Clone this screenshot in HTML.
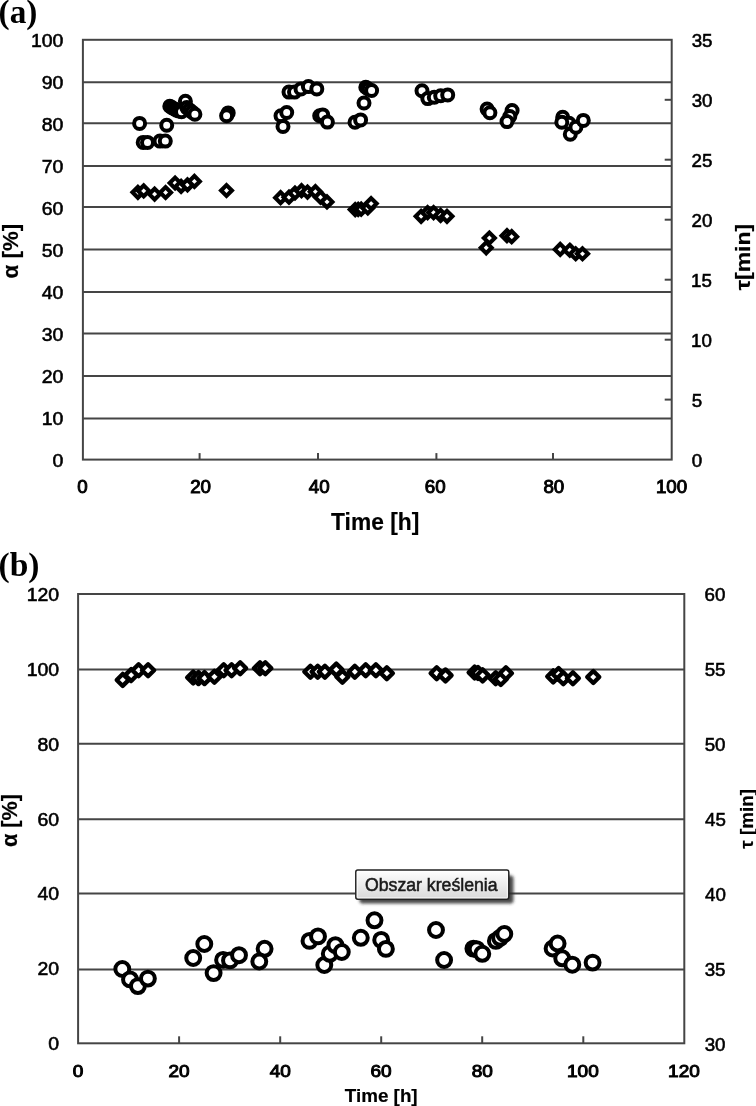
<!DOCTYPE html>
<html><head><meta charset="utf-8"><style>
html,body{margin:0;padding:0;background:#fff;}
svg{display:block;filter:grayscale(1);}
</style></head><body>
<svg width="756" height="1106" viewBox="0 0 756 1106">
<rect width="756" height="1106" fill="#fff"/>
<line x1="82.9" y1="82.3" x2="671.7" y2="82.3" stroke="#454545" stroke-width="2"/>
<line x1="82.9" y1="123.3" x2="671.7" y2="123.3" stroke="#454545" stroke-width="2"/>
<line x1="82.9" y1="166.0" x2="671.7" y2="166.0" stroke="#454545" stroke-width="2"/>
<line x1="82.9" y1="207.0" x2="671.7" y2="207.0" stroke="#454545" stroke-width="2"/>
<line x1="82.9" y1="249.6" x2="671.7" y2="249.6" stroke="#454545" stroke-width="2"/>
<line x1="82.9" y1="292.1" x2="671.7" y2="292.1" stroke="#454545" stroke-width="2"/>
<line x1="82.9" y1="333.4" x2="671.7" y2="333.4" stroke="#454545" stroke-width="2"/>
<line x1="82.9" y1="375.9" x2="671.7" y2="375.9" stroke="#454545" stroke-width="2"/>
<line x1="82.9" y1="418.5" x2="671.7" y2="418.5" stroke="#454545" stroke-width="2"/>
<line x1="664.7" y1="99.8" x2="671.7" y2="99.8" stroke="#454545" stroke-width="2"/>
<line x1="664.7" y1="159.7" x2="671.7" y2="159.7" stroke="#454545" stroke-width="2"/>
<line x1="664.7" y1="219.7" x2="671.7" y2="219.7" stroke="#454545" stroke-width="2"/>
<line x1="664.7" y1="279.7" x2="671.7" y2="279.7" stroke="#454545" stroke-width="2"/>
<line x1="664.7" y1="339.7" x2="671.7" y2="339.7" stroke="#454545" stroke-width="2"/>
<line x1="664.7" y1="399.6" x2="671.7" y2="399.6" stroke="#454545" stroke-width="2"/>
<line x1="199.6" y1="453.1" x2="199.6" y2="459.6" stroke="#454545" stroke-width="2"/>
<line x1="318.0" y1="453.1" x2="318.0" y2="459.6" stroke="#454545" stroke-width="2"/>
<line x1="436.4" y1="453.1" x2="436.4" y2="459.6" stroke="#454545" stroke-width="2"/>
<line x1="553.0" y1="453.1" x2="553.0" y2="459.6" stroke="#454545" stroke-width="2"/>
<rect x="82.9" y="39.8" width="588.8" height="419.8" fill="none" stroke="#454545" stroke-width="2"/>
<text transform="translate(30.89,46.60) scale(1.110,1)" font-family="Liberation Sans" font-weight="normal" font-size="17.53" fill="#000" stroke="#000" stroke-width="0.55">100</text>
<text transform="translate(41.74,88.60) scale(1.110,1)" font-family="Liberation Sans" font-weight="normal" font-size="17.53" fill="#000" stroke="#000" stroke-width="0.55">90</text>
<text transform="translate(41.74,130.60) scale(1.110,1)" font-family="Liberation Sans" font-weight="normal" font-size="17.53" fill="#000" stroke="#000" stroke-width="0.55">80</text>
<text transform="translate(41.74,172.60) scale(1.110,1)" font-family="Liberation Sans" font-weight="normal" font-size="17.53" fill="#000" stroke="#000" stroke-width="0.55">70</text>
<text transform="translate(41.74,214.60) scale(1.110,1)" font-family="Liberation Sans" font-weight="normal" font-size="17.53" fill="#000" stroke="#000" stroke-width="0.55">60</text>
<text transform="translate(41.74,256.60) scale(1.110,1)" font-family="Liberation Sans" font-weight="normal" font-size="17.53" fill="#000" stroke="#000" stroke-width="0.55">50</text>
<text transform="translate(41.74,298.60) scale(1.110,1)" font-family="Liberation Sans" font-weight="normal" font-size="17.53" fill="#000" stroke="#000" stroke-width="0.55">40</text>
<text transform="translate(41.74,340.60) scale(1.110,1)" font-family="Liberation Sans" font-weight="normal" font-size="17.53" fill="#000" stroke="#000" stroke-width="0.55">30</text>
<text transform="translate(41.74,382.60) scale(1.110,1)" font-family="Liberation Sans" font-weight="normal" font-size="17.53" fill="#000" stroke="#000" stroke-width="0.55">20</text>
<text transform="translate(41.74,424.60) scale(1.110,1)" font-family="Liberation Sans" font-weight="normal" font-size="17.53" fill="#000" stroke="#000" stroke-width="0.55">10</text>
<text transform="translate(52.53,466.60) scale(1.110,1)" font-family="Liberation Sans" font-weight="normal" font-size="17.53" fill="#000" stroke="#000" stroke-width="0.55">0</text>
<text transform="translate(691.70,46.90) scale(1.070,1)" font-family="Liberation Sans" font-weight="normal" font-size="17.53" fill="#000" stroke="#000" stroke-width="0.55">35</text>
<text transform="translate(691.70,106.90) scale(1.070,1)" font-family="Liberation Sans" font-weight="normal" font-size="17.53" fill="#000" stroke="#000" stroke-width="0.55">30</text>
<text transform="translate(691.46,166.90) scale(1.070,1)" font-family="Liberation Sans" font-weight="normal" font-size="17.53" fill="#000" stroke="#000" stroke-width="0.55">25</text>
<text transform="translate(691.46,226.90) scale(1.070,1)" font-family="Liberation Sans" font-weight="normal" font-size="17.53" fill="#000" stroke="#000" stroke-width="0.55">20</text>
<text transform="translate(690.99,286.90) scale(1.070,1)" font-family="Liberation Sans" font-weight="normal" font-size="17.53" fill="#000" stroke="#000" stroke-width="0.55">15</text>
<text transform="translate(690.99,346.90) scale(1.070,1)" font-family="Liberation Sans" font-weight="normal" font-size="17.53" fill="#000" stroke="#000" stroke-width="0.55">10</text>
<text transform="translate(691.65,406.90) scale(1.070,1)" font-family="Liberation Sans" font-weight="normal" font-size="17.53" fill="#000" stroke="#000" stroke-width="0.55">5</text>
<text transform="translate(691.65,466.90) scale(1.070,1)" font-family="Liberation Sans" font-weight="normal" font-size="17.53" fill="#000" stroke="#000" stroke-width="0.55">0</text>
<text transform="translate(77.37,493.20) scale(1.070,1)" font-family="Liberation Sans" font-weight="normal" font-size="17.53" fill="#000" stroke="#000" stroke-width="0.95">0</text>
<text transform="translate(190.17,493.20) scale(1.070,1)" font-family="Liberation Sans" font-weight="normal" font-size="17.53" fill="#000" stroke="#000" stroke-width="0.95">20</text>
<text transform="translate(308.73,493.20) scale(1.070,1)" font-family="Liberation Sans" font-weight="normal" font-size="17.53" fill="#000" stroke="#000" stroke-width="0.95">40</text>
<text transform="translate(424.87,493.20) scale(1.070,1)" font-family="Liberation Sans" font-weight="normal" font-size="17.53" fill="#000" stroke="#000" stroke-width="0.95">60</text>
<text transform="translate(543.45,493.20) scale(1.070,1)" font-family="Liberation Sans" font-weight="normal" font-size="17.53" fill="#000" stroke="#000" stroke-width="0.95">80</text>
<text transform="translate(655.91,493.20) scale(1.070,1)" font-family="Liberation Sans" font-weight="normal" font-size="17.53" fill="#000" stroke="#000" stroke-width="0.95">100</text>
<text transform="translate(331.07,529.70) scale(0.966,1)" font-family="Liberation Sans" font-weight="bold" font-size="23.60" fill="#000" stroke="#000" stroke-width="0.2">Time [h]</text>
<text transform="translate(17.70,278.39) rotate(-90) scale(1.052,1)" font-family="Liberation Sans" font-weight="bold" font-size="21.21" fill="#000" stroke="#000" stroke-width="0.2">α [%]</text>
<text transform="translate(749.80,290.27) rotate(-90) scale(1.125,1)" font-family="Liberation Sans" font-weight="bold" font-size="20.47" fill="#000" stroke="#000" stroke-width="0.2">τ[min]</text>
<text transform="translate(-1.42,22.90) scale(1.010,1)" font-family="Liberation Serif" font-weight="bold" font-size="33.00" fill="#000">(a)</text>
<path d="M137.9 186.9L143.3 192.3L137.9 197.8L132.5 192.3Z" fill="#fff" stroke="#000" stroke-width="4.15" stroke-linejoin="miter"/>
<path d="M143.7 185.5L149.1 190.9L143.7 196.3L138.2 190.9Z" fill="#fff" stroke="#000" stroke-width="4.15" stroke-linejoin="miter"/>
<path d="M154.6 188.7L160.0 194.1L154.6 199.5L149.2 194.1Z" fill="#fff" stroke="#000" stroke-width="4.15" stroke-linejoin="miter"/>
<path d="M165.6 187.1L171.0 192.5L165.6 197.9L160.2 192.5Z" fill="#fff" stroke="#000" stroke-width="4.15" stroke-linejoin="miter"/>
<path d="M175.1 177.6L180.5 183.0L175.1 188.4L169.7 183.0Z" fill="#fff" stroke="#000" stroke-width="4.15" stroke-linejoin="miter"/>
<path d="M181.1 181.0L186.5 186.4L181.1 191.8L175.7 186.4Z" fill="#fff" stroke="#000" stroke-width="4.15" stroke-linejoin="miter"/>
<path d="M187.5 179.4L192.9 184.8L187.5 190.2L182.1 184.8Z" fill="#fff" stroke="#000" stroke-width="4.15" stroke-linejoin="miter"/>
<path d="M194.4 176.0L199.8 181.4L194.4 186.8L189.0 181.4Z" fill="#fff" stroke="#000" stroke-width="4.15" stroke-linejoin="miter"/>
<path d="M226.5 185.1L231.9 190.5L226.5 195.9L221.1 190.5Z" fill="#fff" stroke="#000" stroke-width="4.15" stroke-linejoin="miter"/>
<path d="M280.6 192.2L286.1 197.7L280.6 203.1L275.2 197.7Z" fill="#fff" stroke="#000" stroke-width="4.15" stroke-linejoin="miter"/>
<path d="M289.0 191.8L294.4 197.2L289.0 202.6L283.6 197.2Z" fill="#fff" stroke="#000" stroke-width="4.15" stroke-linejoin="miter"/>
<path d="M295.0 187.6L300.4 193.0L295.0 198.4L289.6 193.0Z" fill="#fff" stroke="#000" stroke-width="4.15" stroke-linejoin="miter"/>
<path d="M301.5 185.2L306.9 190.7L301.5 196.1L296.1 190.7Z" fill="#fff" stroke="#000" stroke-width="4.15" stroke-linejoin="miter"/>
<path d="M307.5 186.7L312.9 192.1L307.5 197.5L302.1 192.1Z" fill="#fff" stroke="#000" stroke-width="4.15" stroke-linejoin="miter"/>
<path d="M315.4 186.2L320.8 191.7L315.4 197.1L309.9 191.7Z" fill="#fff" stroke="#000" stroke-width="4.15" stroke-linejoin="miter"/>
<path d="M320.5 191.8L325.9 197.2L320.5 202.6L315.1 197.2Z" fill="#fff" stroke="#000" stroke-width="4.15" stroke-linejoin="miter"/>
<path d="M327.0 196.5L332.4 201.9L327.0 207.3L321.6 201.9Z" fill="#fff" stroke="#000" stroke-width="4.15" stroke-linejoin="miter"/>
<path d="M355.2 204.2L360.6 209.6L355.2 215.0L349.8 209.6Z" fill="#fff" stroke="#000" stroke-width="4.15" stroke-linejoin="miter"/>
<path d="M358.2 204.0L363.6 209.4L358.2 214.8L352.8 209.4Z" fill="#fff" stroke="#000" stroke-width="4.15" stroke-linejoin="miter"/>
<path d="M361.2 203.8L366.6 209.2L361.2 214.6L355.8 209.2Z" fill="#fff" stroke="#000" stroke-width="4.15" stroke-linejoin="miter"/>
<path d="M367.8 202.6L373.2 208.0L367.8 213.4L362.4 208.0Z" fill="#fff" stroke="#000" stroke-width="4.15" stroke-linejoin="miter"/>
<path d="M371.1 198.2L376.6 203.6L371.1 209.0L365.7 203.6Z" fill="#fff" stroke="#000" stroke-width="4.15" stroke-linejoin="miter"/>
<path d="M421.1 210.9L426.6 216.3L421.1 221.8L415.7 216.3Z" fill="#fff" stroke="#000" stroke-width="4.15" stroke-linejoin="miter"/>
<path d="M427.6 207.2L433.1 212.6L427.6 218.0L422.2 212.6Z" fill="#fff" stroke="#000" stroke-width="4.15" stroke-linejoin="miter"/>
<path d="M433.6 207.2L439.1 212.6L433.6 218.0L428.2 212.6Z" fill="#fff" stroke="#000" stroke-width="4.15" stroke-linejoin="miter"/>
<path d="M440.6 210.0L446.1 215.4L440.6 220.8L435.2 215.4Z" fill="#fff" stroke="#000" stroke-width="4.15" stroke-linejoin="miter"/>
<path d="M447.0 210.9L452.4 216.3L447.0 221.8L441.6 216.3Z" fill="#fff" stroke="#000" stroke-width="4.15" stroke-linejoin="miter"/>
<path d="M486.2 242.4L491.6 247.8L486.2 253.2L480.8 247.8Z" fill="#fff" stroke="#000" stroke-width="4.15" stroke-linejoin="miter"/>
<path d="M489.4 232.6L494.8 238.0L489.4 243.4L483.9 238.0Z" fill="#fff" stroke="#000" stroke-width="4.15" stroke-linejoin="miter"/>
<path d="M507.0 230.2L512.5 235.7L507.0 241.1L501.6 235.7Z" fill="#fff" stroke="#000" stroke-width="4.15" stroke-linejoin="miter"/>
<path d="M511.7 231.2L517.1 236.7L511.7 242.1L506.2 236.7Z" fill="#fff" stroke="#000" stroke-width="4.15" stroke-linejoin="miter"/>
<path d="M560.2 244.0L565.7 249.4L560.2 254.8L554.8 249.4Z" fill="#fff" stroke="#000" stroke-width="4.15" stroke-linejoin="miter"/>
<path d="M569.8 244.8L575.2 250.2L569.8 255.6L564.3 250.2Z" fill="#fff" stroke="#000" stroke-width="4.15" stroke-linejoin="miter"/>
<path d="M575.7 248.4L581.2 253.8L575.7 259.2L570.2 253.8Z" fill="#fff" stroke="#000" stroke-width="4.15" stroke-linejoin="miter"/>
<path d="M582.5 248.4L588.0 253.8L582.5 259.2L577.0 253.8Z" fill="#fff" stroke="#000" stroke-width="4.15" stroke-linejoin="miter"/>
<circle cx="139.6" cy="123.4" r="5.5" fill="#fff" stroke="#000" stroke-width="4.0"/>
<circle cx="143.2" cy="142.4" r="5.5" fill="#fff" stroke="#000" stroke-width="4.0"/>
<circle cx="147.5" cy="142.4" r="5.5" fill="#fff" stroke="#000" stroke-width="4.0"/>
<circle cx="160.0" cy="141.1" r="5.5" fill="#fff" stroke="#000" stroke-width="4.0"/>
<circle cx="165.3" cy="141.1" r="5.5" fill="#fff" stroke="#000" stroke-width="4.0"/>
<circle cx="166.7" cy="125.2" r="5.5" fill="#fff" stroke="#000" stroke-width="4.0"/>
<circle cx="169.8" cy="106.2" r="5.5" fill="#fff" stroke="#000" stroke-width="4.0"/>
<circle cx="172.0" cy="107.6" r="5.5" fill="#fff" stroke="#000" stroke-width="4.0"/>
<circle cx="174.3" cy="108.9" r="5.5" fill="#fff" stroke="#000" stroke-width="4.0"/>
<circle cx="176.6" cy="110.1" r="5.5" fill="#fff" stroke="#000" stroke-width="4.0"/>
<circle cx="178.6" cy="111.0" r="5.5" fill="#fff" stroke="#000" stroke-width="4.0"/>
<circle cx="181.5" cy="111.8" r="5.5" fill="#fff" stroke="#000" stroke-width="4.0"/>
<circle cx="185.4" cy="101.3" r="5.5" fill="#fff" stroke="#000" stroke-width="4.0"/>
<circle cx="186.8" cy="107.6" r="5.5" fill="#fff" stroke="#000" stroke-width="4.0"/>
<circle cx="189.4" cy="109.9" r="5.5" fill="#fff" stroke="#000" stroke-width="4.0"/>
<circle cx="192.1" cy="112.1" r="5.5" fill="#fff" stroke="#000" stroke-width="4.0"/>
<circle cx="194.9" cy="114.2" r="5.5" fill="#fff" stroke="#000" stroke-width="4.0"/>
<circle cx="228.2" cy="112.9" r="5.5" fill="#fff" stroke="#000" stroke-width="4.0"/>
<circle cx="226.6" cy="115.7" r="5.5" fill="#fff" stroke="#000" stroke-width="4.0"/>
<circle cx="289.0" cy="92.1" r="5.5" fill="#fff" stroke="#000" stroke-width="4.0"/>
<circle cx="294.5" cy="92.1" r="5.5" fill="#fff" stroke="#000" stroke-width="4.0"/>
<circle cx="301.0" cy="88.9" r="5.5" fill="#fff" stroke="#000" stroke-width="4.0"/>
<circle cx="308.4" cy="86.6" r="5.5" fill="#fff" stroke="#000" stroke-width="4.0"/>
<circle cx="316.8" cy="88.9" r="5.5" fill="#fff" stroke="#000" stroke-width="4.0"/>
<circle cx="281.0" cy="115.7" r="5.5" fill="#fff" stroke="#000" stroke-width="4.0"/>
<circle cx="286.7" cy="112.5" r="5.5" fill="#fff" stroke="#000" stroke-width="4.0"/>
<circle cx="283.0" cy="126.4" r="5.5" fill="#fff" stroke="#000" stroke-width="4.0"/>
<circle cx="319.7" cy="115.7" r="5.5" fill="#fff" stroke="#000" stroke-width="4.0"/>
<circle cx="322.7" cy="114.9" r="5.5" fill="#fff" stroke="#000" stroke-width="4.0"/>
<circle cx="327.4" cy="122.1" r="5.5" fill="#fff" stroke="#000" stroke-width="4.0"/>
<circle cx="365.8" cy="87.3" r="5.5" fill="#fff" stroke="#000" stroke-width="4.0"/>
<circle cx="368.3" cy="89.0" r="5.5" fill="#fff" stroke="#000" stroke-width="4.0"/>
<circle cx="371.6" cy="90.5" r="5.5" fill="#fff" stroke="#000" stroke-width="4.0"/>
<circle cx="364.0" cy="103.0" r="5.5" fill="#fff" stroke="#000" stroke-width="4.0"/>
<circle cx="355.0" cy="122.2" r="5.5" fill="#fff" stroke="#000" stroke-width="4.0"/>
<circle cx="360.6" cy="119.9" r="5.5" fill="#fff" stroke="#000" stroke-width="4.0"/>
<circle cx="422.0" cy="90.7" r="5.5" fill="#fff" stroke="#000" stroke-width="4.0"/>
<circle cx="427.8" cy="98.6" r="5.5" fill="#fff" stroke="#000" stroke-width="4.0"/>
<circle cx="434.3" cy="97.2" r="5.5" fill="#fff" stroke="#000" stroke-width="4.0"/>
<circle cx="440.7" cy="95.8" r="5.5" fill="#fff" stroke="#000" stroke-width="4.0"/>
<circle cx="447.7" cy="94.9" r="5.5" fill="#fff" stroke="#000" stroke-width="4.0"/>
<circle cx="487.1" cy="109.1" r="5.5" fill="#fff" stroke="#000" stroke-width="4.0"/>
<circle cx="489.9" cy="112.8" r="5.5" fill="#fff" stroke="#000" stroke-width="4.0"/>
<circle cx="512.1" cy="110.5" r="5.5" fill="#fff" stroke="#000" stroke-width="4.0"/>
<circle cx="509.8" cy="116.5" r="5.5" fill="#fff" stroke="#000" stroke-width="4.0"/>
<circle cx="507.0" cy="121.6" r="5.5" fill="#fff" stroke="#000" stroke-width="4.0"/>
<circle cx="562.7" cy="117.3" r="5.5" fill="#fff" stroke="#000" stroke-width="4.0"/>
<circle cx="569.0" cy="123.2" r="5.5" fill="#fff" stroke="#000" stroke-width="4.0"/>
<circle cx="561.8" cy="122.2" r="5.5" fill="#fff" stroke="#000" stroke-width="4.0"/>
<circle cx="570.3" cy="134.2" r="5.5" fill="#fff" stroke="#000" stroke-width="4.0"/>
<circle cx="575.9" cy="127.3" r="5.5" fill="#fff" stroke="#000" stroke-width="4.0"/>
<circle cx="583.3" cy="120.4" r="5.5" fill="#fff" stroke="#000" stroke-width="4.0"/>
<line x1="78.1" y1="669.5" x2="684.3" y2="669.5" stroke="#454545" stroke-width="2"/>
<line x1="78.1" y1="743.7" x2="684.3" y2="743.7" stroke="#454545" stroke-width="2"/>
<line x1="78.1" y1="819.3" x2="684.3" y2="819.3" stroke="#454545" stroke-width="2"/>
<line x1="78.1" y1="893.6" x2="684.3" y2="893.6" stroke="#454545" stroke-width="2"/>
<line x1="78.1" y1="969.5" x2="684.3" y2="969.5" stroke="#454545" stroke-width="2"/>
<line x1="179.1" y1="1036.3" x2="179.1" y2="1043.3" stroke="#454545" stroke-width="2"/>
<line x1="280.2" y1="1036.3" x2="280.2" y2="1043.3" stroke="#454545" stroke-width="2"/>
<line x1="381.2" y1="1036.3" x2="381.2" y2="1043.3" stroke="#454545" stroke-width="2"/>
<line x1="482.2" y1="1036.3" x2="482.2" y2="1043.3" stroke="#454545" stroke-width="2"/>
<line x1="583.3" y1="1036.3" x2="583.3" y2="1043.3" stroke="#454545" stroke-width="2"/>
<rect x="78.1" y="594.0" width="606.2" height="449.3" fill="none" stroke="#454545" stroke-width="2"/>
<text transform="translate(26.69,600.80) scale(1.110,1)" font-family="Liberation Sans" font-weight="normal" font-size="17.53" fill="#000" stroke="#000" stroke-width="0.55">120</text>
<text transform="translate(26.69,675.70) scale(1.110,1)" font-family="Liberation Sans" font-weight="normal" font-size="17.53" fill="#000" stroke="#000" stroke-width="0.55">100</text>
<text transform="translate(37.54,750.60) scale(1.110,1)" font-family="Liberation Sans" font-weight="normal" font-size="17.53" fill="#000" stroke="#000" stroke-width="0.55">80</text>
<text transform="translate(37.54,825.50) scale(1.110,1)" font-family="Liberation Sans" font-weight="normal" font-size="17.53" fill="#000" stroke="#000" stroke-width="0.55">60</text>
<text transform="translate(37.54,900.40) scale(1.110,1)" font-family="Liberation Sans" font-weight="normal" font-size="17.53" fill="#000" stroke="#000" stroke-width="0.55">40</text>
<text transform="translate(37.54,975.30) scale(1.110,1)" font-family="Liberation Sans" font-weight="normal" font-size="17.53" fill="#000" stroke="#000" stroke-width="0.55">20</text>
<text transform="translate(48.33,1050.20) scale(1.110,1)" font-family="Liberation Sans" font-weight="normal" font-size="17.53" fill="#000" stroke="#000" stroke-width="0.55">0</text>
<text transform="translate(704.46,601.00) scale(1.070,1)" font-family="Liberation Sans" font-weight="normal" font-size="17.53" fill="#000" stroke="#000" stroke-width="0.55">60</text>
<text transform="translate(704.65,675.95) scale(1.070,1)" font-family="Liberation Sans" font-weight="normal" font-size="17.53" fill="#000" stroke="#000" stroke-width="0.55">55</text>
<text transform="translate(704.65,750.90) scale(1.070,1)" font-family="Liberation Sans" font-weight="normal" font-size="17.53" fill="#000" stroke="#000" stroke-width="0.55">50</text>
<text transform="translate(704.98,825.85) scale(1.070,1)" font-family="Liberation Sans" font-weight="normal" font-size="17.53" fill="#000" stroke="#000" stroke-width="0.55">45</text>
<text transform="translate(704.98,900.80) scale(1.070,1)" font-family="Liberation Sans" font-weight="normal" font-size="17.53" fill="#000" stroke="#000" stroke-width="0.55">40</text>
<text transform="translate(704.70,975.75) scale(1.070,1)" font-family="Liberation Sans" font-weight="normal" font-size="17.53" fill="#000" stroke="#000" stroke-width="0.55">35</text>
<text transform="translate(704.70,1050.70) scale(1.070,1)" font-family="Liberation Sans" font-weight="normal" font-size="17.53" fill="#000" stroke="#000" stroke-width="0.55">30</text>
<text transform="translate(72.80,1077.40) scale(1.170,1)" font-family="Liberation Sans" font-weight="normal" font-size="16.25" fill="#000" stroke="#000" stroke-width="0.95">0</text>
<text transform="translate(168.46,1077.40) scale(1.170,1)" font-family="Liberation Sans" font-weight="normal" font-size="16.25" fill="#000" stroke="#000" stroke-width="0.95">20</text>
<text transform="translate(269.75,1077.40) scale(1.170,1)" font-family="Liberation Sans" font-weight="normal" font-size="16.25" fill="#000" stroke="#000" stroke-width="0.95">40</text>
<text transform="translate(370.53,1077.40) scale(1.170,1)" font-family="Liberation Sans" font-weight="normal" font-size="16.25" fill="#000" stroke="#000" stroke-width="0.95">60</text>
<text transform="translate(471.63,1077.40) scale(1.170,1)" font-family="Liberation Sans" font-weight="normal" font-size="16.25" fill="#000" stroke="#000" stroke-width="0.95">80</text>
<text transform="translate(567.05,1077.40) scale(1.170,1)" font-family="Liberation Sans" font-weight="normal" font-size="16.25" fill="#000" stroke="#000" stroke-width="0.95">100</text>
<text transform="translate(668.09,1077.40) scale(1.170,1)" font-family="Liberation Sans" font-weight="normal" font-size="16.25" fill="#000" stroke="#000" stroke-width="0.95">120</text>
<text transform="translate(344.81,1102.00) scale(1.002,1)" font-family="Liberation Sans" font-weight="bold" font-size="18.80" fill="#000" stroke="#000" stroke-width="0.2">Time [h]</text>
<text transform="translate(16.70,846.97) rotate(-90) scale(1.020,1)" font-family="Liberation Sans" font-weight="bold" font-size="21.21" fill="#000" stroke="#000" stroke-width="0.2">α [%]</text>
<text transform="translate(752.80,848.74) rotate(-90) scale(1.035,1)" font-family="Liberation Sans" font-weight="bold" font-size="18.23" fill="#000" stroke="#000" stroke-width="0.2">τ [min]</text>
<text transform="translate(-1.42,576.20) scale(1.015,1)" font-family="Liberation Serif" font-weight="bold" font-size="33.00" fill="#000">(b)</text>
<path d="M122.7 673.9L128.8 679.9L122.7 685.9L116.7 679.9Z" fill="#fff" stroke="#000" stroke-width="4.3" stroke-linejoin="round"/>
<path d="M131.2 669.1L137.2 675.1L131.2 681.1L125.1 675.1Z" fill="#fff" stroke="#000" stroke-width="4.3" stroke-linejoin="round"/>
<path d="M138.6 664.2L144.7 670.3L138.6 676.3L132.5 670.3Z" fill="#fff" stroke="#000" stroke-width="4.3" stroke-linejoin="round"/>
<path d="M148.1 664.2L154.2 670.3L148.1 676.3L142.0 670.3Z" fill="#fff" stroke="#000" stroke-width="4.3" stroke-linejoin="round"/>
<path d="M193.2 671.5L199.2 677.5L193.2 683.5L187.1 677.5Z" fill="#fff" stroke="#000" stroke-width="4.3" stroke-linejoin="round"/>
<path d="M198.5 672.1L204.6 678.1L198.5 684.1L192.4 678.1Z" fill="#fff" stroke="#000" stroke-width="4.3" stroke-linejoin="round"/>
<path d="M204.5 672.1L210.6 678.1L204.5 684.1L198.4 678.1Z" fill="#fff" stroke="#000" stroke-width="4.3" stroke-linejoin="round"/>
<path d="M214.4 670.8L220.5 676.8L214.4 682.8L208.3 676.8Z" fill="#fff" stroke="#000" stroke-width="4.3" stroke-linejoin="round"/>
<path d="M223.7 664.2L229.8 670.2L223.7 676.2L217.6 670.2Z" fill="#fff" stroke="#000" stroke-width="4.3" stroke-linejoin="round"/>
<path d="M231.6 664.2L237.7 670.2L231.6 676.2L225.5 670.2Z" fill="#fff" stroke="#000" stroke-width="4.3" stroke-linejoin="round"/>
<path d="M240.2 662.2L246.2 668.2L240.2 674.2L234.1 668.2Z" fill="#fff" stroke="#000" stroke-width="4.3" stroke-linejoin="round"/>
<path d="M260.0 662.2L266.1 668.2L260.0 674.2L253.9 668.2Z" fill="#fff" stroke="#000" stroke-width="4.3" stroke-linejoin="round"/>
<path d="M265.3 662.2L271.4 668.2L265.3 674.2L259.2 668.2Z" fill="#fff" stroke="#000" stroke-width="4.3" stroke-linejoin="round"/>
<path d="M310.4 665.7L316.4 671.7L310.4 677.8L304.3 671.7Z" fill="#fff" stroke="#000" stroke-width="4.3" stroke-linejoin="round"/>
<path d="M317.7 665.7L323.8 671.7L317.7 677.8L311.6 671.7Z" fill="#fff" stroke="#000" stroke-width="4.3" stroke-linejoin="round"/>
<path d="M324.9 665.7L330.9 671.7L324.9 677.8L318.8 671.7Z" fill="#fff" stroke="#000" stroke-width="4.3" stroke-linejoin="round"/>
<path d="M336.3 663.6L342.4 669.6L336.3 675.6L330.2 669.6Z" fill="#fff" stroke="#000" stroke-width="4.3" stroke-linejoin="round"/>
<path d="M342.4 670.8L348.4 676.8L342.4 682.8L336.3 676.8Z" fill="#fff" stroke="#000" stroke-width="4.3" stroke-linejoin="round"/>
<path d="M354.8 665.7L360.9 671.7L354.8 677.8L348.8 671.7Z" fill="#fff" stroke="#000" stroke-width="4.3" stroke-linejoin="round"/>
<path d="M365.7 664.2L371.8 670.3L365.7 676.3L359.6 670.3Z" fill="#fff" stroke="#000" stroke-width="4.3" stroke-linejoin="round"/>
<path d="M375.9 664.2L381.9 670.3L375.9 676.3L369.8 670.3Z" fill="#fff" stroke="#000" stroke-width="4.3" stroke-linejoin="round"/>
<path d="M386.8 667.2L392.9 673.2L386.8 679.2L380.8 673.2Z" fill="#fff" stroke="#000" stroke-width="4.3" stroke-linejoin="round"/>
<path d="M436.7 667.2L442.8 673.2L436.7 679.2L430.6 673.2Z" fill="#fff" stroke="#000" stroke-width="4.3" stroke-linejoin="round"/>
<path d="M445.5 669.4L451.6 675.4L445.5 681.4L439.4 675.4Z" fill="#fff" stroke="#000" stroke-width="4.3" stroke-linejoin="round"/>
<path d="M474.6 666.5L480.7 672.5L474.6 678.5L468.6 672.5Z" fill="#fff" stroke="#000" stroke-width="4.3" stroke-linejoin="round"/>
<path d="M478.0 667.0L484.1 673.0L478.0 679.0L471.9 673.0Z" fill="#fff" stroke="#000" stroke-width="4.3" stroke-linejoin="round"/>
<path d="M482.6 669.4L488.7 675.4L482.6 681.4L476.6 675.4Z" fill="#fff" stroke="#000" stroke-width="4.3" stroke-linejoin="round"/>
<path d="M495.7 672.2L501.8 678.3L495.7 684.3L489.6 678.3Z" fill="#fff" stroke="#000" stroke-width="4.3" stroke-linejoin="round"/>
<path d="M500.8 673.0L506.9 679.0L500.8 685.0L494.8 679.0Z" fill="#fff" stroke="#000" stroke-width="4.3" stroke-linejoin="round"/>
<path d="M505.9 667.2L511.9 673.2L505.9 679.2L499.8 673.2Z" fill="#fff" stroke="#000" stroke-width="4.3" stroke-linejoin="round"/>
<path d="M553.2 670.4L559.2 676.4L553.2 682.4L547.2 676.4Z" fill="#fff" stroke="#000" stroke-width="4.3" stroke-linejoin="round"/>
<path d="M558.6 668.0L564.6 674.0L558.6 680.0L552.6 674.0Z" fill="#fff" stroke="#000" stroke-width="4.3" stroke-linejoin="round"/>
<path d="M563.3 672.2L569.3 678.2L563.3 684.2L557.2 678.2Z" fill="#fff" stroke="#000" stroke-width="4.3" stroke-linejoin="round"/>
<path d="M572.9 672.2L578.9 678.2L572.9 684.2L566.9 678.2Z" fill="#fff" stroke="#000" stroke-width="4.3" stroke-linejoin="round"/>
<path d="M593.3 671.0L599.3 677.0L593.3 683.0L587.2 677.0Z" fill="#fff" stroke="#000" stroke-width="4.3" stroke-linejoin="round"/>
<circle cx="122.3" cy="969.0" r="6.95" fill="#fff" stroke="#000" stroke-width="4.0"/>
<circle cx="130.0" cy="979.4" r="6.95" fill="#fff" stroke="#000" stroke-width="4.0"/>
<circle cx="137.9" cy="986.1" r="6.95" fill="#fff" stroke="#000" stroke-width="4.0"/>
<circle cx="147.9" cy="978.6" r="6.95" fill="#fff" stroke="#000" stroke-width="4.0"/>
<circle cx="193.2" cy="958.0" r="6.95" fill="#fff" stroke="#000" stroke-width="4.0"/>
<circle cx="204.3" cy="944.0" r="6.95" fill="#fff" stroke="#000" stroke-width="4.0"/>
<circle cx="223.1" cy="959.9" r="6.95" fill="#fff" stroke="#000" stroke-width="4.0"/>
<circle cx="213.6" cy="973.1" r="6.95" fill="#fff" stroke="#000" stroke-width="4.0"/>
<circle cx="230.0" cy="960.4" r="6.95" fill="#fff" stroke="#000" stroke-width="4.0"/>
<circle cx="239.0" cy="955.2" r="6.95" fill="#fff" stroke="#000" stroke-width="4.0"/>
<circle cx="264.6" cy="948.8" r="6.95" fill="#fff" stroke="#000" stroke-width="4.0"/>
<circle cx="259.3" cy="961.5" r="6.95" fill="#fff" stroke="#000" stroke-width="4.0"/>
<circle cx="309.5" cy="940.9" r="6.95" fill="#fff" stroke="#000" stroke-width="4.0"/>
<circle cx="318.0" cy="936.4" r="6.95" fill="#fff" stroke="#000" stroke-width="4.0"/>
<circle cx="324.3" cy="965.0" r="6.95" fill="#fff" stroke="#000" stroke-width="4.0"/>
<circle cx="329.8" cy="953.8" r="6.95" fill="#fff" stroke="#000" stroke-width="4.0"/>
<circle cx="335.4" cy="945.2" r="6.95" fill="#fff" stroke="#000" stroke-width="4.0"/>
<circle cx="341.8" cy="952.0" r="6.95" fill="#fff" stroke="#000" stroke-width="4.0"/>
<circle cx="360.8" cy="937.8" r="6.95" fill="#fff" stroke="#000" stroke-width="4.0"/>
<circle cx="374.5" cy="920.3" r="6.95" fill="#fff" stroke="#000" stroke-width="4.0"/>
<circle cx="381.2" cy="939.9" r="6.95" fill="#fff" stroke="#000" stroke-width="4.0"/>
<circle cx="385.9" cy="948.9" r="6.95" fill="#fff" stroke="#000" stroke-width="4.0"/>
<circle cx="436.0" cy="930.0" r="6.95" fill="#fff" stroke="#000" stroke-width="4.0"/>
<circle cx="444.1" cy="960.0" r="6.95" fill="#fff" stroke="#000" stroke-width="4.0"/>
<circle cx="473.4" cy="948.6" r="6.95" fill="#fff" stroke="#000" stroke-width="4.0"/>
<circle cx="476.6" cy="949.1" r="6.95" fill="#fff" stroke="#000" stroke-width="4.0"/>
<circle cx="482.3" cy="953.8" r="6.95" fill="#fff" stroke="#000" stroke-width="4.0"/>
<circle cx="495.9" cy="940.9" r="6.95" fill="#fff" stroke="#000" stroke-width="4.0"/>
<circle cx="500.1" cy="937.8" r="6.95" fill="#fff" stroke="#000" stroke-width="4.0"/>
<circle cx="504.3" cy="934.0" r="6.95" fill="#fff" stroke="#000" stroke-width="4.0"/>
<circle cx="552.6" cy="948.5" r="6.95" fill="#fff" stroke="#000" stroke-width="4.0"/>
<circle cx="557.6" cy="943.5" r="6.95" fill="#fff" stroke="#000" stroke-width="4.0"/>
<circle cx="562.2" cy="958.3" r="6.95" fill="#fff" stroke="#000" stroke-width="4.0"/>
<circle cx="572.3" cy="964.7" r="6.95" fill="#fff" stroke="#000" stroke-width="4.0"/>
<circle cx="592.6" cy="962.6" r="6.95" fill="#fff" stroke="#000" stroke-width="4.0"/>
<defs><linearGradient id="tg" x1="0" y1="0" x2="0" y2="1"><stop offset="0" stop-color="#ffffff"/><stop offset="1" stop-color="#d8d8d8"/></linearGradient><filter id="sh" x="-10%" y="-20%" width="130%" height="160%"><feGaussianBlur stdDeviation="1.5"/></filter></defs>
<rect x="359.5" y="875.5" width="154" height="28" rx="3" fill="#2a2a2a" fill-opacity="0.85" filter="url(#sh)"/>
<rect x="355.8" y="870" width="153" height="29.3" rx="2" fill="url(#tg)" stroke="#222" stroke-width="1.5"/>
<rect x="357.3" y="871.5" width="150" height="26.3" rx="1" fill="none" stroke="#fff" stroke-opacity="0.7" stroke-width="1"/>
<text transform="translate(364.96,890.91) scale(0.951,1)" font-family="Liberation Sans" font-weight="normal" font-size="18.60" fill="#1a1a1a" stroke="#1a1a1a" stroke-width="0.55">Obszar kreślenia</text>
</svg>
</body></html>
